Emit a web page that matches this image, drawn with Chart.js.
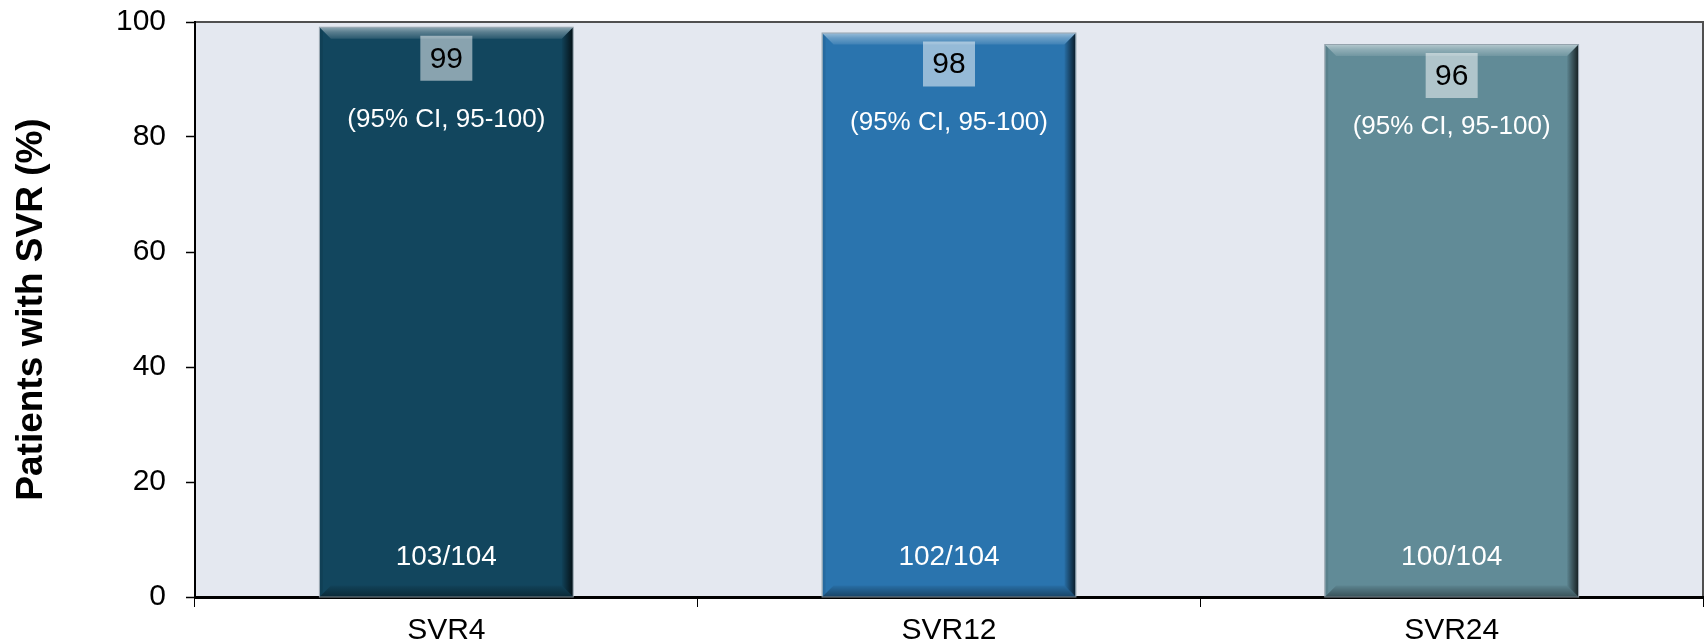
<!DOCTYPE html>
<html>
<head>
<meta charset="utf-8">
<script src="https://cdn.jsdelivr.net/npm/chart.js@4"></script>
<style>
  html, body { margin: 0; padding: 0; background: #fff; }
  #wrap { width: 1704px; height: 644px; }
</style>
</head>
<body>
<div id="wrap"><canvas id="svrChart" width="1704" height="644"></canvas></div>
<script>
const categories = ['SVR4', 'SVR12', 'SVR24'];
const svrRates = [99, 98, 96];
const ciLabels = ['(95% CI, 95-100)', '(95% CI, 95-100)', '(95% CI, 95-100)'];
const responders = ['103/104', '102/104', '100/104'];
const barColors = ['#12465e', '#2a74ae', '#618b97'];
const yTicks = [0, 20, 40, 60, 80, 100];

const FONT = "'Liberation Sans', Arial, sans-serif";

// plot area fill + dark frame on top/right
const plotFrame = {
  id: 'plotFrame',
  beforeDraw(chart) {
    const { ctx, chartArea: a } = chart;
    ctx.save();
    ctx.fillStyle = '#e4e8f0';
    ctx.fillRect(a.left, a.top, a.right - a.left, a.bottom - a.top);
    ctx.strokeStyle = '#505050';
    ctx.lineWidth = 2;
    ctx.beginPath();
    ctx.moveTo(a.left, a.top);
    ctx.lineTo(a.right, a.top);
    ctx.lineTo(a.right, a.bottom);
    ctx.stroke();
    ctx.restore();
  }
};

// bevelled edges on each bar, then the labels inside
const bevelBars = {
  id: 'bevelBars',
  afterDatasetsDraw(chart) {
    const { ctx, chartArea: area } = chart;
    const meta = chart.getDatasetMeta(0);
    ctx.save();
    meta.data.forEach((bar, i) => {
      const p = bar.getProps(['x', 'y', 'base', 'width'], true);
      const l = p.x - p.width / 2, r = p.x + p.width / 2;
      const t = p.y, btm = p.base, b = 11;

      let g = ctx.createLinearGradient(0, t, 0, t + b);
      g.addColorStop(0, 'rgba(255,255,255,0.5)');
      g.addColorStop(0.4, 'rgba(255,255,255,0.3)');
      g.addColorStop(1, 'rgba(255,255,255,0.1)');
      ctx.fillStyle = g;
      ctx.beginPath();
      ctx.moveTo(l, t); ctx.lineTo(r, t); ctx.lineTo(r - b, t + b); ctx.lineTo(l + b, t + b);
      ctx.closePath(); ctx.fill();

      g = ctx.createLinearGradient(r - b, 0, r, 0);
      g.addColorStop(0, 'rgba(0,0,0,0.05)');
      g.addColorStop(1, 'rgba(0,0,0,0.75)');
      ctx.fillStyle = g;
      ctx.beginPath();
      ctx.moveTo(r, t); ctx.lineTo(r, btm); ctx.lineTo(r - b, btm - b); ctx.lineTo(r - b, t + b);
      ctx.closePath(); ctx.fill();

      g = ctx.createLinearGradient(0, btm - b, 0, btm);
      g.addColorStop(0, 'rgba(0,0,0,0.05)');
      g.addColorStop(1, 'rgba(0,0,0,0.4)');
      ctx.fillStyle = g;
      ctx.beginPath();
      ctx.moveTo(l, btm); ctx.lineTo(r, btm); ctx.lineTo(r - b, btm - b); ctx.lineTo(l + b, btm - b);
      ctx.closePath(); ctx.fill();

      ctx.fillStyle = 'rgba(0,0,0,0.08)';
      ctx.beginPath();
      ctx.moveTo(l, t); ctx.lineTo(l + 3, t + 3); ctx.lineTo(l + 3, btm - 3); ctx.lineTo(l, btm);
      ctx.closePath(); ctx.fill();

      ctx.strokeStyle = 'rgba(140,155,165,0.9)';
      ctx.lineWidth = 1;
      ctx.strokeRect(l - 0.5, t - 0.5, p.width + 1, btm - t + 1);

      // value box
      const boxTop = t + 8, boxW = 52, boxH = 45;
      ctx.fillStyle = 'rgba(255,255,255,0.5)';
      ctx.fillRect(p.x - boxW / 2, boxTop, boxW, boxH);
      ctx.textAlign = 'center';
      ctx.textBaseline = 'middle';
      ctx.fillStyle = '#000';
      ctx.font = '30px ' + FONT;
      ctx.fillText(String(svrRates[i]), p.x, boxTop + boxH / 2 + 1);

      // CI line sits lower on shorter bars, but not by the full difference
      ctx.fillStyle = '#fff';
      ctx.font = '26px ' + FONT;
      const ciY = area.top + 96 + 0.38 * (t - area.top);
      ctx.fillText(ciLabels[i], p.x, ciY);

      ctx.font = '28px ' + FONT;
      ctx.fillText(responders[i], p.x, btm - 39);
    });
    ctx.restore();
  }
};

new Chart(document.getElementById('svrChart'), {
  type: 'bar',
  data: {
    labels: categories,
    datasets: [{
      data: svrRates,
      backgroundColor: barColors,
      borderWidth: 0,
      barPercentage: 0.503,
      categoryPercentage: 1.0
    }]
  },
  options: {
    responsive: false,
    animation: false,
    layout: { padding: { top: 22, right: 1, left: 0, bottom: 0 } },
    plugins: {
      legend: { display: false },
      tooltip: { enabled: false }
    },
    scales: {
      x: {
        grid: {
          offset: true,
          drawOnChartArea: false,
          drawTicks: true,
          tickLength: 10,
          tickColor: '#000',
          tickWidth: 1
        },
        border: { color: '#000', width: 3 },
        ticks: { color: '#000', padding: 6, font: { family: FONT, size: 30 } },
        afterFit(scale) { scale.height = 47; }
      },
      y: {
        min: 0,
        max: 100,
        afterBuildTicks(scale) { scale.ticks = yTicks.map(v => ({ value: v })); },
        grid: {
          drawOnChartArea: false,
          drawTicks: true,
          tickLength: 9,
          tickColor: '#000',
          tickWidth: 1.5
        },
        border: { color: '#000', width: 2 },
        ticks: { color: '#000', padding: 20, font: { family: FONT, size: 30 } },
        title: {
          display: true,
          text: 'Patients with SVR (%)',
          color: '#000',
          padding: { top: 10, bottom: 0 },
          font: { family: FONT, size: 37, weight: 'bold' }
        },
        afterFit(scale) {
          scale.width = 195;
          scale.paddingTop = 0;
        }
      }
    }
  },
  plugins: [plotFrame, bevelBars]
});
</script>
</body>
</html>
